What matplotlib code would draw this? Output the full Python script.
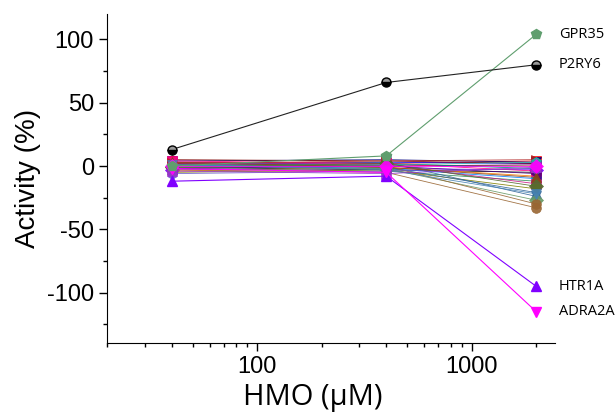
import numpy as np
import matplotlib
matplotlib.use('Agg')
import matplotlib.pyplot as plt
from matplotlib.ticker import LogLocator, NullFormatter, FixedLocator, MultipleLocator

plt.rcParams['axes.unicode_minus'] = False

# 浓度 (uM)
conc = [40, 400, 2000]

# 标注的受体
labeled_names = ['GPR35', 'P2RY6', 'HTR1A', 'ADRA2A']
gpr35 = [0, 8, 104]
p2ry6 = [13, 66, 80]
htr1a = [-12, -8, -95]
adra2a = [-2, -5, -115]

# 其余受体 (接近 0)
other_vals = [
    [3, 2, 4], [1, 3, 2], [-2, 1, 0], [4, 5, 3], [-3, -2, -3],
    [2, 0, 1], [-1, -3, -5], [0, 2, -2], [5, 4, 2], [-4, -1, -8],
    [1, -2, -10], [-2, -4, -12], [3, 1, -14], [-5, -3, -18], [0, -1, -21],
    [2, 3, -24], [-1, -2, -27], [1, 0, -30], [-3, -5, -33], [4, 2, -4],
    [-2, 0, -6], [2, 4, 5], [-6, -4, -2], [0, 1, 3], [3, -1, -9],
    [-1, 2, -16], [1, -3, -22], [-4, -6, -1], [0, 0, 0],
]
other_colors = ['#FF0000', '#0000FF', '#808000', '#000080', '#8000FF',
                '#800080', '#000000', '#008080', '#800000', '#FF8000',
                '#0080FF', '#2E8B57', '#C71585', '#808000', '#336699',
                '#336699', '#669966', '#996633', '#996633', '#FF0080',
                '#4B0082', '#B22222', '#6A5ACD', '#20B2AA', '#8B4513',
                '#556B2F', '#4682B4', '#9932CC', '#FF00FF']
other_markers = ['s', 'o', '^', 'v', 'D', '<', 'o', '>', 'h', '*',
                 'p', 'o', 's', 'v', '^', 'v', 'D', 'o', 'o', 's',
                 '<', '>', 'h', 'p', '^', 'D', 'v', 's', 'D']

fig = plt.figure(figsize=(6.16, 4.16), dpi=100)
ax = fig.add_axes([0.174, 0.175, 0.727, 0.791])

for vals, c, m in zip(other_vals, other_colors, other_markers):
    ax.plot(conc, vals, color=c, marker=m, markersize=7, linewidth=0.6,
            markeredgewidth=0.5, alpha=0.9)

ax.plot(conc, htr1a, color='#8000FF', marker='^', markersize=7, linewidth=0.8)
ax.plot(conc, adra2a, color='#FF00FF', marker='v', markersize=7, linewidth=0.8)
ax.plot(conc, gpr35, color='#5F9E6E', marker='p', markersize=7, linewidth=0.8)
ax.plot(conc, p2ry6, color='#222222', marker='o', markersize=6.5, linewidth=0.8,
        markerfacecolor='#000000', markerfacecoloralt='#9A9A9A',
        markeredgecolor='#000000', fillstyle='bottom')

for name, vals in zip(labeled_names, [gpr35, p2ry6, htr1a, adra2a]):
    ax.text(2550, vals[-1], name, fontsize=10.5, family='Open Sans',
            va='center', ha='left', clip_on=False)

ax.set_xscale('log')
ax.set_xlim(20, 2450)
ax.set_ylim(-140, 120)
ax.xaxis.set_major_locator(FixedLocator([100, 1000]))
ax.xaxis.set_minor_locator(LogLocator(base=10, subs=np.arange(2, 10), numticks=20))
ax.xaxis.set_minor_formatter(NullFormatter())
ax.set_xticklabels(['100', '1000'])
ax.yaxis.set_major_locator(FixedLocator([-100, -50, 0, 50, 100]))
ax.yaxis.set_minor_locator(MultipleLocator(25))

for s in ['top', 'right']:
    ax.spines[s].set_visible(False)
ax.tick_params(which='major', length=6, width=1, labelsize=17, direction='out')
ax.tick_params(which='minor', length=3, width=1, direction='out')
for lbl in ax.get_xticklabels() + ax.get_yticklabels():
    lbl.set_family('Liberation Sans')

ax.set_xlabel('HMO (μM)', fontsize=21, family='Open Sans')
ax.xaxis.set_label_coords(0.458, -0.12)
ax.set_ylabel('Activity (%)', fontsize=20, family='Liberation Sans', labelpad=4)

plt.savefig('out.png', dpi=100)
